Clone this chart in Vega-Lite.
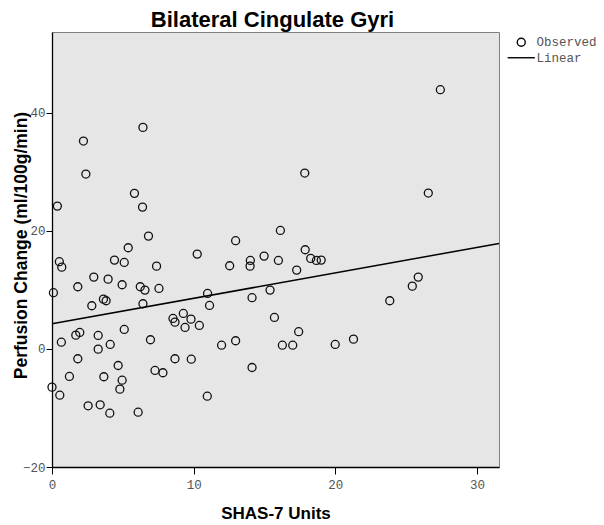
{
  "$schema": "https://vega.github.io/schema/vega-lite/v6.json",
  "width": 447,
  "height": 435,
  "autosize": {"type": "none"},
  "padding": {"left": 52, "top": 32, "right": 105, "bottom": 58},
  "background": "#ffffff",
  "title": {
    "text": "Bilateral Cingulate Gyri",
    "font": "Liberation Sans",
    "fontSize": 22,
    "fontWeight": "bold",
    "color": "#000000",
    "anchor": "middle",
    "frame": "group",
    "offset": 1,
    "baseline": "bottom",
    "dx": -3,
    "dy": 23
  },
  "config": {
    "view": {"fill": "#e6e6e6", "stroke": "#808080", "strokeWidth": 1}
  },
  "datasets": {
    "obs": [
      {"x": 27.41, "y": 43.93, "series": "Observed"},
      {"x": 6.42, "y": 37.54, "series": "Observed"},
      {"x": 2.22, "y": 35.22, "series": "Observed"},
      {"x": 2.39, "y": 29.63, "series": "Observed"},
      {"x": 17.84, "y": 29.8, "series": "Observed"},
      {"x": 5.82, "y": 26.36, "series": "Observed"},
      {"x": 26.56, "y": 26.41, "series": "Observed"},
      {"x": 0.38, "y": 24.2, "series": "Observed"},
      {"x": 6.39, "y": 24.03, "series": "Observed"},
      {"x": 6.81, "y": 19.12, "series": "Observed"},
      {"x": 16.12, "y": 20.08, "series": "Observed"},
      {"x": 12.96, "y": 18.34, "series": "Observed"},
      {"x": 10.25, "y": 16.07, "series": "Observed"},
      {"x": 5.38, "y": 17.15, "series": "Observed"},
      {"x": 4.41, "y": 15.05, "series": "Observed"},
      {"x": 5.1, "y": 14.66, "series": "Observed"},
      {"x": 7.38, "y": 14.03, "series": "Observed"},
      {"x": 12.54, "y": 14.1, "series": "Observed"},
      {"x": 0.52, "y": 14.78, "series": "Observed"},
      {"x": 0.69, "y": 13.86, "series": "Observed"},
      {"x": 2.95, "y": 12.17, "series": "Observed"},
      {"x": 3.96, "y": 11.83, "series": "Observed"},
      {"x": 0.1, "y": 9.53, "series": "Observed"},
      {"x": 1.82, "y": 10.54, "series": "Observed"},
      {"x": 4.95, "y": 10.88, "series": "Observed"},
      {"x": 6.23, "y": 10.54, "series": "Observed"},
      {"x": 6.56, "y": 9.97, "series": "Observed"},
      {"x": 7.55, "y": 10.25, "series": "Observed"},
      {"x": 10.98, "y": 9.41, "series": "Observed"},
      {"x": 3.63, "y": 8.44, "series": "Observed"},
      {"x": 3.82, "y": 8.17, "series": "Observed"},
      {"x": 2.81, "y": 7.32, "series": "Observed"},
      {"x": 6.42, "y": 7.66, "series": "Observed"},
      {"x": 11.12, "y": 7.37, "series": "Observed"},
      {"x": 8.54, "y": 5.17, "series": "Observed"},
      {"x": 8.68, "y": 4.54, "series": "Observed"},
      {"x": 9.27, "y": 6.02, "series": "Observed"},
      {"x": 9.81, "y": 5.05, "series": "Observed"},
      {"x": 9.39, "y": 3.64, "series": "Observed"},
      {"x": 10.4, "y": 3.98, "series": "Observed"},
      {"x": 5.1, "y": 3.31, "series": "Observed"},
      {"x": 1.68, "y": 2.34, "series": "Observed"},
      {"x": 1.96, "y": 2.8, "series": "Observed"},
      {"x": 3.26, "y": 2.29, "series": "Observed"},
      {"x": 0.66, "y": 1.15, "series": "Observed"},
      {"x": 3.26, "y": -0.03, "series": "Observed"},
      {"x": 4.11, "y": 0.76, "series": "Observed"},
      {"x": 6.95, "y": 1.56, "series": "Observed"},
      {"x": 11.97, "y": 0.64, "series": "Observed"},
      {"x": 12.96, "y": 1.39, "series": "Observed"},
      {"x": 1.82, "y": -1.66, "series": "Observed"},
      {"x": 8.68, "y": -1.66, "series": "Observed"},
      {"x": 9.83, "y": -1.73, "series": "Observed"},
      {"x": 4.67, "y": -2.8, "series": "Observed"},
      {"x": 1.23, "y": -4.66, "series": "Observed"},
      {"x": 3.66, "y": -4.71, "series": "Observed"},
      {"x": 4.95, "y": -5.29, "series": "Observed"},
      {"x": 7.27, "y": -3.64, "series": "Observed"},
      {"x": 7.83, "y": -4.03, "series": "Observed"},
      {"x": 0.0, "y": -6.47, "series": "Observed"},
      {"x": 0.55, "y": -7.83, "series": "Observed"},
      {"x": 4.79, "y": -6.81, "series": "Observed"},
      {"x": 10.96, "y": -8.0, "series": "Observed"},
      {"x": 2.55, "y": -9.63, "series": "Observed"},
      {"x": 3.4, "y": -9.46, "series": "Observed"},
      {"x": 4.08, "y": -10.88, "series": "Observed"},
      {"x": 6.08, "y": -10.71, "series": "Observed"},
      {"x": 17.87, "y": 16.81, "series": "Observed"},
      {"x": 14.97, "y": 15.73, "series": "Observed"},
      {"x": 14.0, "y": 15.0, "series": "Observed"},
      {"x": 13.98, "y": 14.03, "series": "Observed"},
      {"x": 15.98, "y": 15.0, "series": "Observed"},
      {"x": 18.26, "y": 15.34, "series": "Observed"},
      {"x": 18.66, "y": 15.0, "series": "Observed"},
      {"x": 19.0, "y": 15.05, "series": "Observed"},
      {"x": 17.27, "y": 13.36, "series": "Observed"},
      {"x": 25.85, "y": 12.17, "series": "Observed"},
      {"x": 25.43, "y": 10.64, "series": "Observed"},
      {"x": 14.12, "y": 8.68, "series": "Observed"},
      {"x": 15.39, "y": 9.97, "series": "Observed"},
      {"x": 23.84, "y": 8.17, "series": "Observed"},
      {"x": 15.7, "y": 5.34, "series": "Observed"},
      {"x": 17.41, "y": 2.92, "series": "Observed"},
      {"x": 16.26, "y": 0.64, "series": "Observed"},
      {"x": 16.99, "y": 0.64, "series": "Observed"},
      {"x": 19.99, "y": 0.76, "series": "Observed"},
      {"x": 21.28, "y": 1.66, "series": "Observed"},
      {"x": 14.12, "y": -3.14, "series": "Observed"}
    ],
    "fit": [
      {"x": 0, "y": 4.27},
      {"x": 31.55, "y": 17.87}
    ]
  },
  "layer": [
    {
      "data": {"name": "obs"},
      "mark": {"type": "point", "filled": false, "size": 64, "strokeWidth": 1.3, "color": "#111111", "opacity": 1},
      "encoding": {
        "x": {
          "field": "x",
          "type": "quantitative",
          "scale": {"domain": [0, 31.55], "nice": false, "zero": false},
          "axis": {
            "title": "SHAS-7 Units",
            "values": [0, 10, 20, 30],
            "grid": false,
            "tickSize": 7,
            "tickColor": "#000000",
            "domainColor": "#000000",
            "domainWidth": 1.3,
            "labelPadding": 4,
            "labelFont": "Liberation Mono",
            "labelFontSize": 12.5,
            "labelColor": "#555555",
            "labelFlush": false,
            "labelOverlap": false,
            "titleFont": "Liberation Sans",
            "titleFontSize": 17,
            "titleFontWeight": "bold",
            "titleColor": "#000000",
            "titleY": 51,
            "titleBaseline": "alphabetic"
          }
        },
        "y": {
          "field": "y",
          "type": "quantitative",
          "scale": {"domain": [-20, 53.7], "nice": false, "zero": false},
          "axis": {
            "title": "Perfusion Change (ml/100g/min)",
            "values": [-20, 0, 20, 40],
            "grid": false,
            "tickSize": 6,
            "tickColor": "#000000",
            "domainColor": "#000000",
            "domainWidth": 1.3,
            "labelPadding": 1,
            "labelFont": "Liberation Mono",
            "labelFontSize": 12.5,
            "labelColor": "#555555",
            "labelFlush": false,
            "labelOverlap": false,
            "titleFont": "Liberation Sans",
            "titleFontSize": 17.5,
            "titleFontWeight": "bold",
            "titleColor": "#000000",
            "titleX": -22,
            "titleY": 213,
            "titleAlign": "center",
            "titleBaseline": "bottom"
          }
        },
        "shape": {
          "field": "series",
          "type": "nominal",
          "scale": {"domain": ["Observed", "Linear"], "range": ["circle", "M-3.4,0H3.4"]},
          "legend": {
            "title": null,
            "orient": "none",
            "legendX": 463,
            "legendY": 4,
            "padding": 0,
            "symbolSize": 64,
            "symbolStrokeWidth": 1.4,
            "symbolStrokeColor": "#000000",
            "symbolFillColor": "transparent",
            "symbolOffset": 0,
            "labelFont": "Liberation Mono",
            "labelFontSize": 12.5,
            "labelColor": "#555555",
            "labelOffset": 9,
            "rowPadding": 1.5
          }
        }
      }
    },
    {
      "data": {"name": "fit"},
      "mark": {"type": "line", "color": "#000000", "strokeWidth": 1.5},
      "encoding": {
        "x": {"field": "x", "type": "quantitative"},
        "y": {"field": "y", "type": "quantitative"}
      }
    }
  ]
}
